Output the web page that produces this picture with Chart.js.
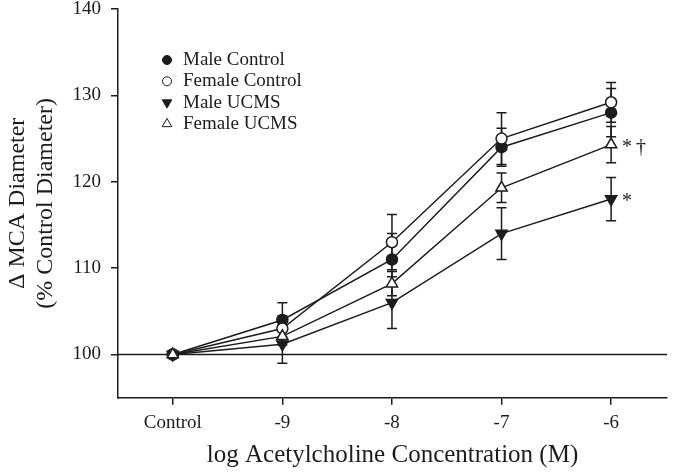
<!DOCTYPE html>
<html lang="en">
<head>
<meta charset="UTF-8">
<title>MCA Diameter</title>
<script src="https://cdn.jsdelivr.net/npm/chart.js"></script>
<style>
  html, body { margin: 0; padding: 0; background: #fff; }
  #wrap { width: 675px; height: 473px; }
</style>
</head>
<body>
<div id="wrap"><canvas id="chart"></canvas></div>
<script>
// "Control" sits at -10 on the log axis
var doses = [-10, -9, -8, -7, -6];
var doseLabels = ['Control', '-9', '-8', '-7', '-6'];
var yTicks = [100, 110, 120, 130, 140];

var maleControl = [100, 104, 111, 124, 128];
var maleControlErr = [0, 2, 3, 2.2, 2.8];
var femaleControl = [100, 103, 113, 125, 129.2];
var femaleControlErr = [0, 1.5, 3.2, 3, 2.3];
var maleUcms = [100, 101.2, 106, 114, 118];
var maleUcmsErr = [0, 2.2, 3, 3, 2.5];
var femaleUcms = [100, 102.1, 108.2, 119.3, 124.3];
var femaleUcmsErr = [0, 1, 1.4, 1.7, 2.1];

var seriesNames = ['Male Control', 'Female Control', 'Male UCMS', 'Female UCMS'];
var sigMarks = ['', '', '*', '*\u2009\u2020'];   // shown beside the -6 point

var FONT = "'Liberation Serif', 'Times New Roman', serif";
var INK = '#1c1c1c';

function makeSeries(name, values, errs, style, rot, fill, radius, order) {
    return {
        label: name,
        data: doses.map(function(d, i) { return { x: d, y: values[i] }; }),
        errs: errs,
        order: order,
        borderColor: INK,
        borderWidth: 1.5,
        pointStyle: style,
        rotation: rot,
        pointRadius: radius,
        pointHoverRadius: radius,
        pointBackgroundColor: fill,
        pointBorderColor: INK,
        pointBorderWidth: 1.5,
        tension: 0,
        fill: false
    };
}

// later series are painted on top, like the original
var datasets = [
    makeSeries(seriesNames[0], maleControl, maleControlErr, 'circle', 0, INK, 5.5, 3),
    makeSeries(seriesNames[1], femaleControl, femaleControlErr, 'circle', 0, '#fff', 5.5, 2),
    makeSeries(seriesNames[2], maleUcms, maleUcmsErr, 'triangle', 180, INK, 6.5, 1),
    makeSeries(seriesNames[3], femaleUcms, femaleUcmsErr, 'triangle', 0, '#fff', 6.5, 0)
];

// horizontal line at 100 and the error bars, under the markers
var underlay = {
    id: 'underlay',
    beforeDatasetsDraw: function(chart) {
        var ctx = chart.ctx, area = chart.chartArea;
        var xs = chart.scales.x, ys = chart.scales.y;
        ctx.save();
        ctx.strokeStyle = INK;
        ctx.lineWidth = 1.5;
        var y100 = ys.getPixelForValue(100);
        ctx.beginPath();
        ctx.moveTo(area.left, y100);
        ctx.lineTo(area.right, y100);
        ctx.stroke();

        chart.data.datasets.forEach(function(ds) {
            ds.data.forEach(function(p, i) {
                var e = ds.errs[i];
                if (!e) return;
                var px = xs.getPixelForValue(p.x);
                var top = ys.getPixelForValue(p.y + e);
                var bot = ys.getPixelForValue(p.y - e);
                ctx.beginPath();
                ctx.moveTo(px, top); ctx.lineTo(px, bot);
                ctx.moveTo(px - 5, top); ctx.lineTo(px + 5, top);
                ctx.moveTo(px - 5, bot); ctx.lineTo(px + 5, bot);
                ctx.stroke();
            });
        });
        ctx.restore();
    }
};

// legend in the upper left of the plot and the significance marks
var overlay = {
    id: 'overlay',
    afterDatasetsDraw: function(chart) {
        var ctx = chart.ctx;
        var xs = chart.scales.x, ys = chart.scales.y;
        ctx.save();
        ctx.font = '19px ' + FONT;
        ctx.textBaseline = 'middle';
        ctx.fillStyle = INK;
        chart.data.datasets.forEach(function(ds, i) {
            var ly = 60 + i * 21.3;
            ctx.fillStyle = ds.pointBackgroundColor;
            ctx.strokeStyle = INK;
            Chart.helpers.drawPoint(ctx, {
                pointStyle: ds.pointStyle,
                rotation: ds.rotation,
                radius: ds.pointStyle === 'circle' ? 4.5 : 5.5,
                borderWidth: 1.5
            }, 167, ly);
            ctx.fillStyle = INK;
            ctx.textAlign = 'left';
            ctx.fillText(ds.label, 183, ly);

            if (sigMarks[i]) {
                var last = ds.data[ds.data.length - 1];
                ctx.font = '20px ' + FONT;
                ctx.fillText(sigMarks[i], xs.getPixelForValue(last.x) + 11, ys.getPixelForValue(last.y) + 3);
                ctx.font = '19px ' + FONT;
            }
        });
        ctx.restore();
    }
};

new Chart(document.getElementById('chart'), {
    type: 'line',
    data: { datasets: datasets },
    options: {
        responsive: true,
        maintainAspectRatio: false,
        animation: false,
        layout: { padding: { top: 9, right: 0, bottom: 0, left: 0 } },
        plugins: {
            legend: { display: false },
            tooltip: { enabled: false }
        },
        scales: {
            x: {
                type: 'linear',
                min: -10.5,
                max: -5.49,
                afterBuildTicks: function(scale) {
                    scale.ticks = doses.map(function(v) { return { value: v }; });
                },
                afterFit: function(scale) {
                    scale.height = 75.3;
                    scale.paddingLeft = 0;
                    scale.paddingRight = 0;
                },
                ticks: {
                    color: INK,
                    font: { family: FONT, size: 19 },
                    padding: 7,
                    maxRotation: 0,
                    callback: function(value, index) { return doseLabels[index]; }
                },
                grid: { drawOnChartArea: false, tickLength: 7, color: INK, lineWidth: 1.5 },
                border: { display: true, color: INK, width: 1.5 },
                title: {
                    display: true,
                    text: 'log Acetylcholine Concentration (M)',
                    color: INK,
                    font: { family: FONT, size: 25 },
                    padding: { top: 0, bottom: 3 }
                }
            },
            y: {
                min: 95,
                max: 140,
                afterBuildTicks: function(scale) {
                    scale.ticks = yTicks.map(function(v) { return { value: v }; });
                },
                afterFit: function(scale) {
                    scale.width = 118;
                    scale.paddingTop = 0;
                    scale.paddingBottom = 0;
                },
                ticks: {
                    color: INK,
                    font: { family: FONT, size: 19 },
                    padding: 10
                },
                grid: { drawOnChartArea: false, tickLength: 7, color: INK, lineWidth: 1.5 },
                border: { display: true, color: INK, width: 1.5 },
                title: {
                    display: true,
                    text: ['\u0394 MCA Diameter', '(% Control Diameter)'],
                    color: INK,
                    font: { family: FONT, size: 24, lineHeight: 1.2 },
                    padding: { top: 3, bottom: 0 }
                }
            }
        }
    },
    plugins: [underlay, overlay]
});
</script>
</body>
</html>
